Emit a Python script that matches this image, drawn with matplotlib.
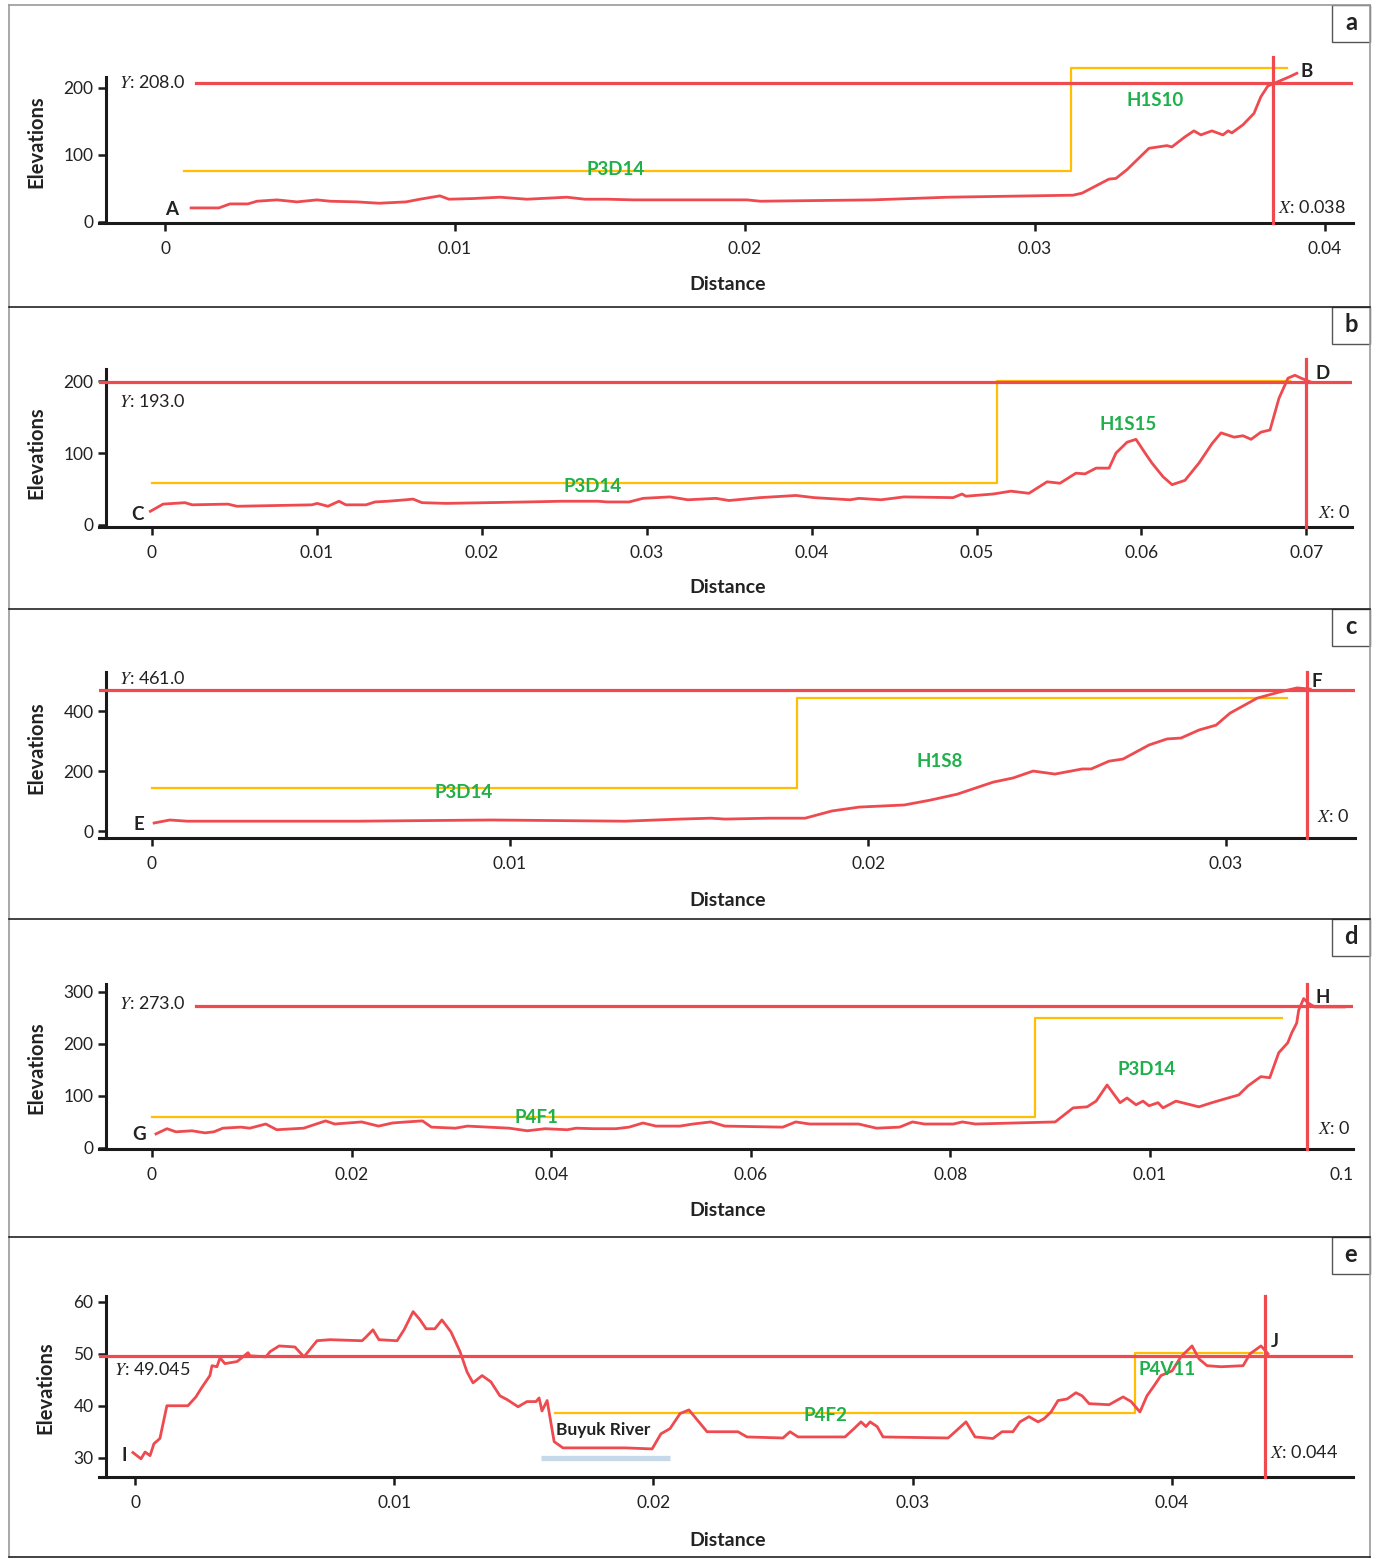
import matplotlib
matplotlib.use("Agg")
import matplotlib.pyplot as plt
from matplotlib.lines import Line2D
from matplotlib.patches import Rectangle

plt.rcParams['font.family'] = ['Lato', 'DejaVu Sans']
plt.rcParams['mathtext.fontset'] = 'stix'

# ---------------- data ----------------
# panel a : A -> B
dist_a = [0.0009, 0.00186, 0.00224, 0.00286, 0.00317, 0.00386, 0.00455, 0.00524, 0.00569,
          0.00662, 0.00738, 0.00831, 0.00879, 0.00948, 0.00979, 0.01062, 0.01155, 0.01248,
          0.01386, 0.01448, 0.01524, 0.01617, 0.01772, 0.02007, 0.02052, 0.02438, 0.027,
          0.03131, 0.03162, 0.03255, 0.03279, 0.03317, 0.03393, 0.03455, 0.03472, 0.03517,
          0.03548, 0.03572, 0.0361, 0.03648, 0.03666, 0.03679, 0.03717, 0.03755, 0.03779,
          0.03803, 0.03841, 0.03879, 0.03903]
elev_a = [21, 21, 27, 27, 31, 33, 30, 33, 31, 30, 28, 30, 34, 39, 34, 35, 37, 34, 37, 34, 34,
          33, 33, 33, 31, 33, 37, 40, 43, 64, 65, 78, 110, 114, 112, 127, 136, 130, 136, 130,
          136, 133, 145, 162, 187, 203, 210, 217, 222]
geo_x_a = [0.00066, 0.03124, 0.03869]
geo_y_a = [76, 230]
geo_names_a = ['P3D14', 'H1S10']
cursor_y_a, cursor_x_a = 208.0, 0.0382

# panel b : C -> D
dist_b = [-0.0001, 0.00067, 0.002, 0.00243, 0.00461, 0.00515, 0.0097, 0.01001, 0.01067,
          0.01134, 0.01176, 0.01298, 0.01352, 0.01431, 0.0154, 0.01583, 0.01637, 0.01783,
          0.02274, 0.02486, 0.02705, 0.02759, 0.02893, 0.02978, 0.03141, 0.0325, 0.0342,
          0.03499, 0.03687, 0.03905, 0.04015, 0.04233, 0.04287, 0.04421, 0.0456, 0.04858,
          0.04912, 0.04936, 0.051, 0.05209, 0.05318, 0.05428, 0.05506, 0.05603, 0.05658,
          0.05725, 0.05804, 0.05846, 0.05913, 0.05967, 0.06022, 0.06064, 0.06131, 0.06186,
          0.06264, 0.06349, 0.06428, 0.06483, 0.06562, 0.06616, 0.06665, 0.06725, 0.0678,
          0.06834, 0.06889, 0.06931, 0.06968, 0.07022]
elev_b = [19, 29, 31, 28, 29, 26, 28, 30, 26, 33, 28, 28, 32, 33, 35, 36, 31, 30, 32, 33, 33,
          32, 32, 37, 39, 35, 37, 34, 38, 41, 38, 35, 37, 35, 39, 38, 43, 40, 43, 47, 44, 60,
          58, 72, 71, 79, 79, 100, 115, 119, 100, 86, 67, 56, 62, 86, 113, 128, 122, 124, 119,
          129, 132, 176, 204, 208, 204, 199]
geo_x_b = [0.0, 0.05124, 0.06901]
geo_y_b = [58, 200]
geo_names_b = ['P3D14', 'H1S15']
cursor_y_b, cursor_x_b = 198.5, 0.07

# panel c : E -> F
dist_c = [0.00006, 0.0005, 0.00098, 0.00573, 0.00947, 0.01321, 0.01475, 0.01561, 0.01601,
          0.01723, 0.01824, 0.01899, 0.01975, 0.02101, 0.02173, 0.02249, 0.02349, 0.02405,
          0.02461, 0.02522, 0.02598, 0.02623, 0.02673, 0.02712, 0.02785, 0.02835, 0.02874,
          0.02925, 0.02972, 0.03011, 0.03087, 0.03148, 0.03198, 0.03235]
elev_c = [27, 37, 33, 33, 37, 33, 40, 43, 40, 43, 43, 67, 80, 87, 103, 123, 163, 177, 200,
          190, 207, 207, 233, 240, 287, 307, 310, 337, 353, 393, 443, 463, 477, 473]
geo_x_c = [0.0, 0.01802, 0.0317]
geo_y_c = [145, 443]
geo_names_c = ['P3D14', 'H1S8']
cursor_y_c, cursor_x_c = 470.0, 0.03226

# panel d : G -> H
dist_d = [0.0004, 0.0015, 0.0024, 0.004, 0.0053, 0.0062, 0.0071, 0.0089, 0.0098, 0.0114,
          0.0125, 0.0152, 0.0174, 0.0183, 0.021, 0.0227, 0.0241, 0.0255, 0.0271, 0.028,
          0.0304, 0.0316, 0.0358, 0.0376, 0.0394, 0.0416, 0.0425, 0.0443, 0.0465, 0.0478,
          0.0492, 0.0505, 0.0529, 0.0542, 0.056, 0.0574, 0.0632, 0.0645, 0.0659, 0.0708,
          0.0726, 0.0749, 0.0762, 0.0774, 0.0803, 0.0812, 0.0825, 0.0905, 0.0923, 0.0937,
          0.0946, 0.0957, 0.097, 0.0977, 0.0986, 0.0993, 0.0999, 0.1008, 0.1013, 0.1026,
          0.1049, 0.1062, 0.1071, 0.1089, 0.1098, 0.1111, 0.112, 0.1129, 0.1138, 0.1142,
          0.1147, 0.1149, 0.1154, 0.1158, 0.1165, 0.1195]
elev_d = [27, 37, 31, 33, 29, 31, 38, 40, 38, 46, 35, 38, 52, 46, 50, 42, 48, 50, 52, 40, 38,
          42, 38, 33, 37, 35, 38, 37, 37, 40, 48, 42, 42, 46, 50, 42, 40, 50, 46, 46, 38, 40,
          50, 46, 46, 50, 46, 50, 77, 79, 90, 121, 87, 96, 83, 90, 81, 87, 77, 90, 79, 87, 92,
          102, 119, 137, 135, 183, 202, 221, 240, 265, 287, 279, 271, 271]
geo_x_d = [0.0, 0.0885, 0.1132]
geo_y_d = [60, 250]
geo_names_d = ['P4F1', 'P3D14']
cursor_y_d, cursor_x_d = 273.0, 0.1157
xticks_d = [0, 0.02, 0.04, 0.06, 0.08, 0.10]
xticklabels_d = ['0', '0.02', '0.04', '0.06', '0.08', '0.01']

# panel e : I -> J
dist_e = [-0.00008, 0.00023, 0.00039, 0.00058, 0.00073, 0.00096, 0.00123, 0.00204, 0.00235,
          0.00255, 0.00289, 0.00297, 0.00316, 0.00328, 0.00347, 0.00394, 0.00436, 0.00444,
          0.00505, 0.00521, 0.00556, 0.00617, 0.00652, 0.00702, 0.00752, 0.00876, 0.00891,
          0.00918, 0.00941, 0.01011, 0.01038, 0.01073, 0.011, 0.01123, 0.01157, 0.01184,
          0.01219, 0.01254, 0.01281, 0.01304, 0.01339, 0.01373, 0.01408, 0.01435, 0.01478,
          0.01512, 0.01547, 0.01559, 0.0157, 0.0159, 0.01617, 0.01651, 0.0189, 0.01995,
          0.02029, 0.02064, 0.02103, 0.02137, 0.02207, 0.02326, 0.02361, 0.025, 0.02527,
          0.02558, 0.02739, 0.02774, 0.02801, 0.0282, 0.02836, 0.02863, 0.02886, 0.03137,
          0.03164, 0.03206, 0.03241, 0.0331, 0.03345, 0.03387, 0.03414, 0.03449, 0.03484,
          0.03507, 0.03534, 0.03561, 0.03596, 0.0363, 0.03654, 0.03681, 0.03758, 0.03812,
          0.03843, 0.03877, 0.03904, 0.03931, 0.03958, 0.04001, 0.04035, 0.04078, 0.04105,
          0.04136, 0.0419, 0.04275, 0.04302, 0.04344, 0.04371]
elev_e = [31.0, 29.8, 31.1, 30.4, 32.7, 33.7, 40.0, 40.0, 41.7, 43.3, 45.8, 47.7, 47.5, 49.2,
          48.1, 48.5, 50.2, 49.6, 49.4, 50.4, 51.5, 51.3, 49.4, 52.5, 52.7, 52.5, 53.2, 54.6,
          52.7, 52.5, 54.6, 58.1, 56.5, 54.8, 54.8, 56.5, 54.2, 50.4, 46.5, 44.4, 45.8, 44.6,
          41.9, 41.2, 39.8, 40.8, 40.8, 41.5, 39.0, 41.0, 33.1, 31.9, 31.9, 31.7, 34.6, 35.6,
          38.5, 39.2, 35.0, 35.0, 34.0, 33.8, 35.0, 34.0, 34.0, 35.6, 36.9, 36.0, 36.9, 36.0,
          34.0, 33.8, 35.0, 36.9, 34.0, 33.7, 35.0, 35.0, 36.9, 37.9, 36.9, 37.5, 38.8, 41.0,
          41.3, 42.5, 41.9, 40.4, 40.2, 41.7, 40.8, 38.8, 41.9, 43.8, 45.8, 46.7, 49.4, 51.5,
          49.0, 47.7, 47.5, 47.7, 50.0, 51.5, 50.0]
geo_x_e = [0.0162, 0.03858, 0.04348]
geo_y_e = [38.6, 50.2]
geo_names_e = ['P4F2', 'P4V11']
cursor_y_e, cursor_x_e = 49.5, 0.0436
river_x = [0.01566, 0.02064]
river_y = 30.0

RED = '#ee4a4f'
YEL = '#ffbe00'
GRN = '#1fb04c'
W, H = 1376, 1559


def fx(px):
    return px / W


def fy(py):
    return 1 - py / H


fig = plt.figure(figsize=(W / 100, H / 100), dpi=100)

# panel frames
panel_tops = [5, 307, 609, 919, 1237]
letters = ['a', 'b', 'c', 'd', 'e']
fig.add_artist(Line2D([fx(9), fx(9)], [fy(5), fy(1557)], color='#9a9a9a', lw=1.2))
fig.add_artist(Line2D([fx(1370), fx(1370)], [fy(5), fy(1557)], color='#9a9a9a', lw=1.2))
fig.add_artist(Line2D([fx(9), fx(1370)], [fy(5), fy(5)], color='#9a9a9a', lw=1.2))
for t in panel_tops[1:] + [1557]:
    fig.add_artist(Line2D([fx(9), fx(1370)], [fy(t), fy(t)], color='#222222', lw=1.2))
for t, let in zip(panel_tops, letters):
    fig.add_artist(Rectangle((fx(1332), fy(t + 37)), fx(38), 37 / H, fill=False,
                             ec='#555555', lw=1.0))
    fig.text(fx(1351), fy(t + 18), let, ha='center', va='center', fontsize=17,
             fontweight='bold', color='#222222')

# axes boxes in pixels: top, bottom, right
boxes = [(77, 223, 1353), (369, 527, 1352), (672, 838, 1355), (984, 1149, 1353),
         (1296, 1477, 1353)]
xlims = [(-0.002276, 0.040966), (-0.003214, 0.07277), (-0.00148, 0.0336),
         (-0.00531, 0.12034), (-0.001389, 0.04699)]
ylims = [(-1.5, 216.4), (-2.8, 216.7), (-23, 530), (-2, 315), (26.3, 61.1)]
yticks = [[0, 100, 200], [0, 100, 200], [0, 200, 400], [0, 100, 200, 300], [30, 40, 50, 60]]
xticks = [[0, 0.01, 0.02, 0.03, 0.04], [0, 0.01, 0.02, 0.03, 0.04, 0.05, 0.06, 0.07],
          [0, 0.01, 0.02, 0.03], xticks_d, [0, 0.01, 0.02, 0.03, 0.04]]
xlabel_y = [285, 588, 900, 1211, 1540]
ylabel_pos = [(36, 142), (36, 453), (36, 748), (36, 1068), (45, 1388)]

axes = []
for i, (top, bot, right) in enumerate(boxes):
    ax = fig.add_axes([fx(99), fy(bot), fx(right - 99), (bot - top) / H])
    ax.set_xlim(*xlims[i])
    ax.set_ylim(*ylims[i])
    for s in ['top', 'right']:
        ax.spines[s].set_visible(False)
    ax.spines['left'].set_position(('axes', 7 / (right - 99)))
    for s in ['left', 'bottom']:
        ax.spines[s].set_linewidth(2.2)
        ax.spines[s].set_color('#1a1a1a')
    ax.tick_params(axis='both', direction='out', length=6, width=1.8, color='#1a1a1a',
                   labelsize=12.5, labelcolor='#222222')
    ax.tick_params(axis='x', pad=7)
    ax.tick_params(axis='y', pad=3)
    ax.set_yticks(yticks[i])
    ax.set_xticks(xticks[i])
    if i != 3:
        ax.set_xticklabels(['0' if v == 0 else f'{v:g}' for v in xticks[i]])
    ax.set_xlabel('Distance', fontsize=14, fontweight='bold', color='#222222', va='center')
    ax.xaxis.set_label_coords(fx(728), fy(xlabel_y[i]), transform=fig.transFigure)
    ax.set_ylabel('Elevations', fontsize=14.5, fontweight='bold', color='#222222',
                  va='center')
    ax.yaxis.set_label_coords(fx(ylabel_pos[i][0]), fy(ylabel_pos[i][1]),
                              transform=fig.transFigure)
    ax.patch.set_alpha(0)
    axes.append(ax)

axes[3].set_xticklabels(xticklabels_d)
# the last label of panel d has no tick of its own
axes[3].text(0.1192, -26 / 165, '0.1', transform=axes[3].get_xaxis_transform(),
             ha='center', va='center', fontsize=12.5, color='#222222')

panels = [
    (dist_a, elev_a, geo_x_a, geo_y_a, geo_names_a, cursor_y_a, cursor_x_a),
    (dist_b, elev_b, geo_x_b, geo_y_b, geo_names_b, cursor_y_b, cursor_x_b),
    (dist_c, elev_c, geo_x_c, geo_y_c, geo_names_c, cursor_y_c, cursor_x_c),
    (dist_d, elev_d, geo_x_d, geo_y_d, geo_names_d, cursor_y_d, cursor_x_d),
    (dist_e, elev_e, geo_x_e, geo_y_e, geo_names_e, cursor_y_e, cursor_x_e),
]
# where the cursor line starts (axes fraction) and how far the vertical one pokes above
hline_start = [97 / 1254, 0, 0, 97 / 1254, 0]
vline_top = [1.137, 1.063, 1.0, 1.0, 1.0]

for i, (ax, p) in enumerate(zip(axes, panels)):
    d, e, gx, gy, gnames, cy, cx = p
    # geology step line
    ax.plot([gx[0], gx[1], gx[1], gx[2]], [gy[0], gy[0], gy[1], gy[1]], color=YEL, lw=1.6,
            zorder=2, clip_on=False)
    ax.plot(d, e, color=RED, lw=2.0, zorder=3, solid_joinstyle='round', clip_on=False)
    ax.axhline(cy, xmin=hline_start[i], xmax=1, color=RED, lw=2.3, zorder=4)
    ax.axvline(cx, ymin=0, ymax=vline_top[i], color=RED, lw=2.3, zorder=4, clip_on=False)

# text annotations: (text, x, y, kind)
notes = [
    [(r'$Y$: 208.0', -0.00045, 208, 'c'), ('P3D14', 0.01555, 79, 'g'),
     ('H1S10', 0.03414, 181, 'g'), ('A', 0.00024, 19, 'p'), ('B', 0.03938, 225, 'p'),
     (r'$X$: 0.038', 0.04072, 22, 'r')],
    [(r'$Y$: 193.0', 0.0, 171, 'c'), ('P3D14', 0.02674, 53, 'g'), ('H1S15', 0.05919, 139, 'g'),
     ('C', -0.00085, 15, 'p'), ('D', 0.07101, 210, 'p'), (r'$X$: 0', 0.07265, 17, 'r')],
    [(r'$Y$: 461.0', 0.0, 510, 'c'), ('P3D14', 0.00869, 130, 'g'), ('H1S8', 0.02201, 233, 'g'),
     ('E', -0.00036, 23, 'p'), ('F', 0.03254, 500, 'p'), (r'$X$: 0', 0.03346, 50, 'r')],
    [(r'$Y$: 273.0', 0.0, 277, 'c'), ('P4F1', 0.03848, 58, 'g'), ('P3D14', 0.0997, 150, 'g'),
     ('G', -0.0013, 25, 'p'), ('H', 0.11733, 290, 'p'), (r'$X$: 0', 0.12004, 38, 'r')],
    [(r'$Y$: 49.045', 0.00066, 46.9, 'c'), ('P4F2', 0.02662, 38.1, 'g'),
     ('P4V11', 0.03981, 46.9, 'g'), ('I', -0.00042, 30.4, 'p'), ('J', 0.04398, 52.3, 'p'),
     (r'$X$: 0.044', 0.04641, 31, 'r'), ('Buyuk River', 0.01806, 35.4, 'b')],
]
for ax, nl in zip(axes, notes):
    for txt, x, y, kind in nl:
        if kind == 'g':
            ax.text(x, y, txt, color=GRN, fontsize=13.5, fontweight='bold', ha='center',
                    va='center', zorder=6)
        elif kind == 'p':
            ax.text(x, y, txt, color='#222222', fontsize=13.5, fontweight='bold',
                    ha='center', va='center', zorder=6)
        elif kind == 'b':
            ax.text(x, y, txt, color='#222222', fontsize=12.5, fontweight='bold',
                    ha='center', va='center', zorder=6)
        elif kind == 'r':
            ax.text(x, y, txt, color='#222222', fontsize=13, ha='right', va='center',
                    zorder=6)
        else:
            ax.text(x, y, txt, color='#222222', fontsize=13, ha='center', va='center',
                    zorder=6)

# river marker under panel e
axes[4].plot(river_x, [river_y, river_y], color='#c6d9ea', lw=3.8, solid_capstyle='butt',
             zorder=2)

fig.savefig('out.png', dpi=100)
